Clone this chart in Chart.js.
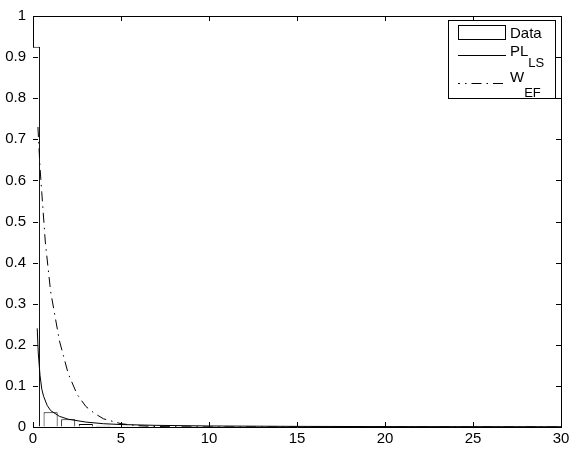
<!DOCTYPE html>
<html>
<head>
<meta charset="utf-8">
<script src="https://cdn.jsdelivr.net/npm/chart.js@4"></script>
<style>
  body { margin: 0; background: #fff; }
</style>
</head>
<body>
<canvas id="canvas1" width="575" height="454"></canvas>
<script>
// histogram (bin centres and heights)
var binCenters = [0, 1, 2, 3, 4, 5, 6, 7, 8, 9, 10, 11, 12];
var binHeights = [0.925, 0.036, 0.019, 0.0075, 0.003, 0.002, 0.0015, 0.001, 0.001, 0.0008, 0.0006, 0.0005, 0.0004];

// PL_LS fit
var plX = [0.24, 0.3, 0.4, 0.5, 0.6, 0.8, 1, 1.5, 2, 3, 4, 5, 7, 10, 15, 20, 30];
var plY = [0.24, 0.18, 0.125, 0.092, 0.075, 0.053, 0.040, 0.026, 0.019, 0.012, 0.008, 0.006, 0.004, 0.0025, 0.0015, 0.001, 0.0007];

// W_EF fit
var wX = [0.28, 0.4, 0.5, 0.7, 1, 1.5, 2, 2.5, 3, 3.5, 4, 5, 6, 7, 8, 10, 15, 20, 30];
var wY = [0.73, 0.63, 0.57, 0.45, 0.33, 0.21, 0.13, 0.08, 0.05, 0.033, 0.02, 0.008, 0.003, 0.0012, 0.0005, 0.0001, 0, 0, 0];

var xTicks = [0, 5, 10, 15, 20, 25, 30];
var yTicks = [0, 0.1, 0.2, 0.3, 0.4, 0.5, 0.6, 0.7, 0.8, 0.9, 1];

function pts(xs, ys) {
    return xs.map(function(x, i){ return {x: x, y: ys[i]}; });
}

var FONT = "Liberation Sans, Arial, Helvetica, sans-serif";
var DASHDOT = [10, 5, 1.5, 5];

// box, inward ticks and legend like the matlab figure
var matlabAxes = {
    id: 'matlabAxes',
    afterDraw: function(chart) {
        var ctx = chart.ctx, a = chart.chartArea;
        var xs = chart.scales.x, ys = chart.scales.y;
        ctx.save();
        ctx.strokeStyle = '#000';
        ctx.lineWidth = 1;
        ctx.beginPath();
        ctx.moveTo(a.left, a.top + 0.5);
        ctx.lineTo(a.right + 0.5, a.top + 0.5);
        ctx.lineTo(a.right + 0.5, a.bottom);
        ctx.stroke();
        ctx.beginPath();
        xTicks.forEach(function(v){
            var p = Math.round(xs.getPixelForValue(v)) + 0.5;
            ctx.moveTo(p, a.bottom); ctx.lineTo(p, a.bottom - 5);
            ctx.moveTo(p, a.top); ctx.lineTo(p, a.top + 5);
        });
        yTicks.forEach(function(v){
            var p = Math.round(ys.getPixelForValue(v)) + 0.5;
            ctx.moveTo(a.left, p); ctx.lineTo(a.left + 5, p);
            ctx.moveTo(a.right, p); ctx.lineTo(a.right - 5, p);
        });
        ctx.stroke();

        // legend
        var lx = 448, ly = 20, lw = 107, lh = 78;
        ctx.fillStyle = '#fff';
        ctx.fillRect(lx, ly, lw, lh);
        ctx.strokeRect(lx + 0.5, ly + 0.5, lw, lh);

        ctx.strokeRect(458.5, 25.5, 47, 14);
        ctx.beginPath();
        ctx.moveTo(458, 55.5); ctx.lineTo(506, 55.5);
        ctx.stroke();
        ctx.setLineDash(DASHDOT);
        ctx.lineDashOffset = 8;
        ctx.beginPath();
        ctx.moveTo(458, 83.5); ctx.lineTo(506, 83.5);
        ctx.stroke();
        ctx.setLineDash([]);

        ctx.fillStyle = '#000';
        ctx.textAlign = 'left';
        ctx.textBaseline = 'alphabetic';
        ctx.font = '15px ' + FONT;
        ctx.fillText('Data', 510, 38);
        ctx.fillText('PL', 510, 56);
        var w1 = ctx.measureText('PL').width;
        ctx.fillText('W', 510, 82);
        var w2 = ctx.measureText('W').width;
        ctx.font = '13px ' + FONT;
        ctx.fillText('LS', 510 + w1, 67);
        ctx.fillText('EF', 510 + w2, 97);
        ctx.restore();
    }
};

new Chart(document.getElementById('canvas1'), {
    data: {
        datasets: [{
            type: 'bar',
            label: 'Data',
            data: pts(binCenters, binHeights),
            backgroundColor: '#ffffff',
            borderColor: '#000000',
            borderWidth: 1,
            barPercentage: 0.8,
            categoryPercentage: 1,
            order: 2
        }, {
            type: 'line',
            label: 'PL_LS',
            data: pts(plX, plY),
            borderColor: '#000000',
            borderWidth: 1,
            pointRadius: 0,
            fill: false,
            order: 1
        }, {
            type: 'line',
            label: 'W_EF',
            data: pts(wX, wY),
            borderColor: '#000000',
            borderWidth: 1,
            borderDash: DASHDOT,
            pointRadius: 0,
            fill: false,
            order: 0
        }]
    },
    options: {
        responsive: false,
        animation: false,
        devicePixelRatio: 1,
        layout: { padding: { top: 12, right: 14, left: 0, bottom: 0 } },
        plugins: { legend: { display: false }, tooltip: { enabled: false } },
        scales: {
            x: {
                type: 'linear',
                min: 0, max: 30,
                offset: false,
                afterBuildTicks: function(s){ s.ticks = xTicks.map(function(v){ return {value: v}; }); },
                afterFit: function(s){ s.height = 27; },
                grid: { display: true, drawOnChartArea: false, drawTicks: false, offset: false },
                border: { display: true, color: '#000', width: 1 },
                ticks: { color: '#000', padding: 3, maxRotation: 0, font: { family: FONT, size: 15 },
                         callback: function(v){ return String(v); } }
            },
            y: {
                type: 'linear',
                min: 0, max: 1,
                afterBuildTicks: function(s){ s.ticks = yTicks.map(function(v){ return {value: v}; }); },
                afterFit: function(s){ s.width = 33; },
                grid: { display: true, drawOnChartArea: false, drawTicks: false },
                border: { display: true, color: '#000', width: 1 },
                ticks: { color: '#000', padding: 7, font: { family: FONT, size: 15 },
                         callback: function(v){ return String(v); } }
            }
        }
    },
    plugins: [matlabAxes]
});
</script>
</body>
</html>
